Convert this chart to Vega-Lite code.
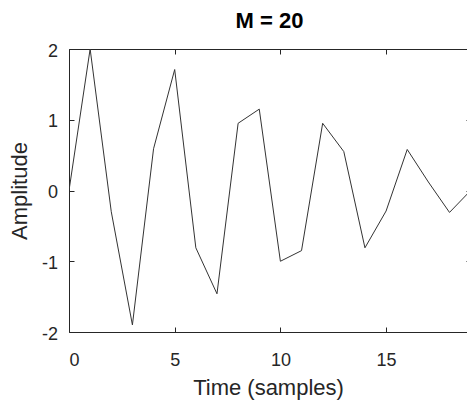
{
  "$schema": "https://vega.github.io/schema/vega-lite/v6.json",
  "width": 399,
  "height": 283,
  "autosize": {"type": "none"},
  "padding": {"left": 69, "top": 49, "right": 0, "bottom": 70},
  "background": "white",
  "config": {"view": {"stroke": "#262626", "strokeWidth": 1, "fill": null}, "axis": {"zindex": 1, "domain": false, "ticks": true, "tickWidth": 1, "tickSize": 5, "tickColor": "#262626", "grid": false}},
  "data": {"values": [
    {"n": 0, "amp": 0.0},
    {"n": 1, "amp": 2.0},
    {"n": 2, "amp": -0.30},
    {"n": 3, "amp": -1.90},
    {"n": 4, "amp": 0.59},
    {"n": 5, "amp": 1.71},
    {"n": 6, "amp": -0.81},
    {"n": 7, "amp": -1.46},
    {"n": 8, "amp": 0.95},
    {"n": 9, "amp": 1.15},
    {"n": 10, "amp": -1.00},
    {"n": 11, "amp": -0.85},
    {"n": 12, "amp": 0.95},
    {"n": 13, "amp": 0.55},
    {"n": 14, "amp": -0.81},
    {"n": 15, "amp": -0.29},
    {"n": 16, "amp": 0.58},
    {"n": 17, "amp": 0.12},
    {"n": 18, "amp": -0.31},
    {"n": 19, "amp": 0.0}
  ]},
  "layer": [
    {
      "mark": {"type": "line", "color": "#333333", "strokeWidth": 1, "clip": true},
      "encoding": {
        "x": {"field": "n", "type": "quantitative", "scale": {"domain": [0, 18.875], "nice": false, "zero": false},
          "axis": {"orient": "bottom", "offset": -5, "values": [0, 5, 10, 15], "labelPadding": 19, "labelFont": "Liberation Sans", "labelFontSize": 18, "labelColor": "#262626", "labelAngle": 0, "labelBaseline": "top",
            "title": "Time (samples)", "titleFont": "Liberation Sans", "titleFontSize": 22, "titleFontWeight": "normal", "titleColor": "#262626", "titleBaseline": "alphabetic", "titleY": 67, "titleX": 199, "titleAlign": "center"}},
        "y": {"field": "amp", "type": "quantitative", "scale": {"domain": [-2, 2], "nice": false, "zero": false},
          "axis": {"orient": "left", "offset": -5, "values": [-2, -1, 0, 1, 2], "labelPadding": 11.5, "labelOffset": 2, "labelFont": "Liberation Sans", "labelFontSize": 18, "labelColor": "#262626", "labelBaseline": "middle",
            "labelExpr": "datum.value < 0 ? '-' + abs(datum.value) : '' + datum.value",
            "title": "Amplitude", "titleFont": "Liberation Sans", "titleFontSize": 22, "titleFontWeight": "normal", "titleColor": "#262626", "titleAngle": 270, "titleBaseline": "alphabetic", "titleX": -47.6, "titleY": 141.5, "titleAlign": "center"}}
      }
    },
    {
      "mark": {"type": "line", "opacity": 0, "clip": true},
      "encoding": {
        "x": {"field": "n", "type": "quantitative",
          "axis": {"orient": "top", "offset": -5, "values": [0, 5, 10, 15], "labels": false,
            "title": "M = 20", "titleFont": "Liberation Sans", "titleFontSize": 22, "titleFontWeight": "bold", "titleColor": "#000000", "titleBaseline": "alphabetic", "titleY": -27, "titleX": 200, "titleAlign": "center"}},
        "y": {"field": "amp", "type": "quantitative",
          "axis": {"orient": "right", "values": [-2, -1, 0, 1, 2], "labels": false, "title": null, "offset": -2}}
      }
    }
  ],
  "resolve": {"axis": {"x": "independent", "y": "independent"}}
}
